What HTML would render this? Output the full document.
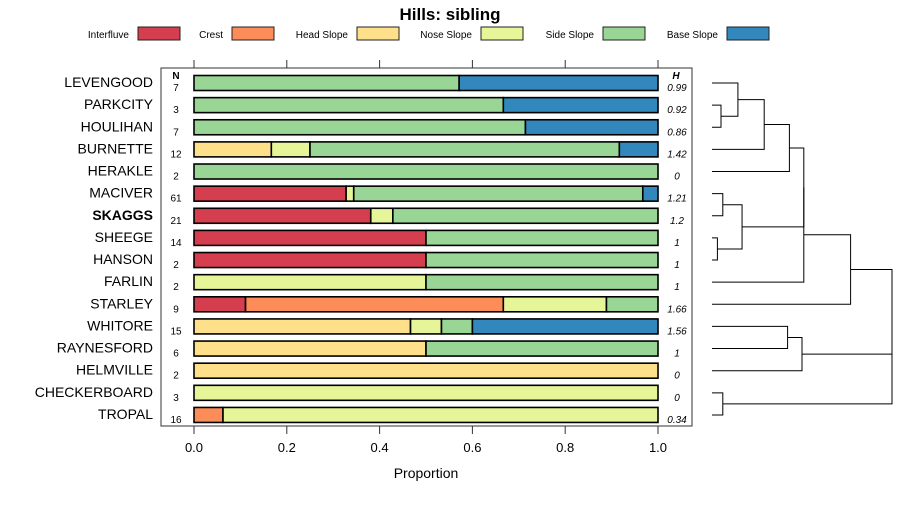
<!DOCTYPE html>
<html><head><meta charset="utf-8"><style>
body{margin:0;background:#fff}
svg{font-family:"Liberation Sans",sans-serif}
</style></head><body>
<svg id="c" width="900" height="500" xmlns="http://www.w3.org/2000/svg">
<text x="450" y="20" text-anchor="middle" font-size="17" font-weight="bold">Hills: sibling</text>
<g id="legend"></g>
<rect x="161" y="68" width="531" height="358" fill="none" stroke="#333"/>
<g id="bars"></g>
<g id="axis"></g>
<text x="426" y="478" text-anchor="middle" font-size="14">Proportion</text>
<g id="dendro" stroke="#000" fill="none" stroke-width="1"></g>
</svg>
<script>
const classes=["Interfluve","Crest","Head Slope","Nose Slope","Side Slope","Base Slope"];
const colors=["#D53E4F","#FC8D59","#FEE08B","#E6F598","#99D594","#3288BD"];
const series=["LEVENGOOD","PARKCITY","HOULIHAN","BURNETTE","HERAKLE","MACIVER","SKAGGS","SHEEGE","HANSON","FARLIN","STARLEY","WHITORE","RAYNESFORD","HELMVILLE","CHECKERBOARD","TROPAL"];
const nVals=[7,3,7,12,2,61,21,14,2,2,9,15,6,2,3,16];
const hVals=["0.99","0.92","0.86","1.42","0","1.21","1.2","1","1","1","1.66","1.56","1","0","0","0.34"];
const interfluve=[0,0,0,0,0,20/61,8/21,.5,.5,0,1/9,0,0,0,0,0];
const crest=[0,0,0,0,0,0,0,0,0,0,5/9,0,0,0,0,1/16];
const headSlope=[0,0,0,2/12,0,0,0,0,0,0,0,7/15,.5,1,0,0];
const noseSlope=[0,0,0,1/12,0,1/61,1/21,0,0,.5,2/9,1/15,0,0,1,15/16];
const sideSlope=[4/7,2/3,5/7,8/12,1,38/61,12/21,.5,.5,.5,1/9,1/15,.5,0,0,0];
const baseSlope=[3/7,1/3,2/7,1/12,0,2/61,0,0,0,0,0,6/15,0,0,0,0];
const ticks=[0,0.2,0.4,0.6,0.8,1.0];
// dendrogram merges: [left, right, height]; negative = leaf index (-(i+1)), positive = merge id (1-based)
const merges=[[-2,-3,0.05],[-1,1,0.144],[-4,2,0.29],[-5,3,0.43],[-6,-7,0.06],[-8,-9,0.03],[5,6,0.167],[4,7,0.51],[8,-10,0.51],[9,-11,0.77],[-12,-13,0.42],[11,-14,0.5],[-15,-16,0.06],[12,13,1.0],[10,14,1.0]];
const NS="http://www.w3.org/2000/svg";
const x=v=>194+v*464, y=i=>83+i*22.13;
const dx=h=>712+h*180;
function mk(t,a,p){const e=document.createElementNS(NS,t);for(const k in a)e.setAttribute(k,a[k]);p.appendChild(e);return e;}
const lg=document.getElementById('legend');
const legX=[129,223,348,472,594,718];
classes.forEach((c,i)=>{
 const t=mk('text',{x:legX[i],y:38,'text-anchor':'end','font-size':10},lg);t.textContent=c;
 
 
 const r=mk('rect',{x:legX[i]+9,y:27,width:42,height:13,fill:colors[i],stroke:'#222'},lg);
 
 
});
const ax=document.getElementById('axis');
ticks.forEach(t=>{
 mk('line',{x1:x(t),x2:x(t),y1:60,y2:68,stroke:'#333'},ax);
 mk('line',{x1:x(t),x2:x(t),y1:426,y2:434,stroke:'#333'},ax);
 const l=mk('text',{x:x(t),y:452,'text-anchor':'middle','font-size':13},ax);l.textContent=t.toFixed(1);
 
 
});
const bg=document.getElementById('bars');
const hN=mk('text',{x:176,y:79,'text-anchor':'middle','font-size':10,'font-weight':'bold'},bg);hN.textContent='N';
const hH=mk('text',{x:676,y:79,'text-anchor':'middle','font-size':10,'font-weight':'bold','font-style':'italic'},bg);hH.textContent='H';
const all=[interfluve,crest,headSlope,noseSlope,sideSlope,baseSlope];
series.forEach((s,i)=>{
 const cy=y(i);
 const lab=mk('text',{x:153,y:cy+4,'text-anchor':'end','font-size':14,'font-weight':s==='SKAGGS'?'bold':'normal'},bg);lab.textContent=s;
 
 
 const n=mk('text',{x:176,y:cy+8,'text-anchor':'middle','font-size':10},bg);n.textContent=nVals[i];
 
 
 const h=mk('text',{x:677,y:cy+8,'text-anchor':'middle','font-size':10,'font-style':'italic'},bg);h.textContent=hVals[i];
 
 
 let acc=0;
 all.forEach((arr,k)=>{
  const v=arr[i]; if(v<=0)return;
  const r=mk('rect',{x:x(acc),y:cy-7.5,width:x(acc+v)-x(acc),height:15,fill:colors[k],stroke:'#000','stroke-width':1.6},bg);
  
  
  acc+=v;
 });
});
const dg=document.getElementById('dendro');
const nodeY=[],nodeX=[];
function pos(id){return id<0?[712,y(-id-1)]:[nodeX[id-1],nodeY[id-1]];}
merges.forEach((m,i)=>{
 const [ax1,ay1]=pos(m[0]),[ax2,ay2]=pos(m[1]);const hx=dx(m[2]);
 const p=mk('path',{d:`M${ax1},${ay1}H${hx}V${ay2}H${ax2}`},dg);
 
 
 nodeX.push(hx);nodeY.push((ay1+ay2)/2);
});
</script>
</body></html>
